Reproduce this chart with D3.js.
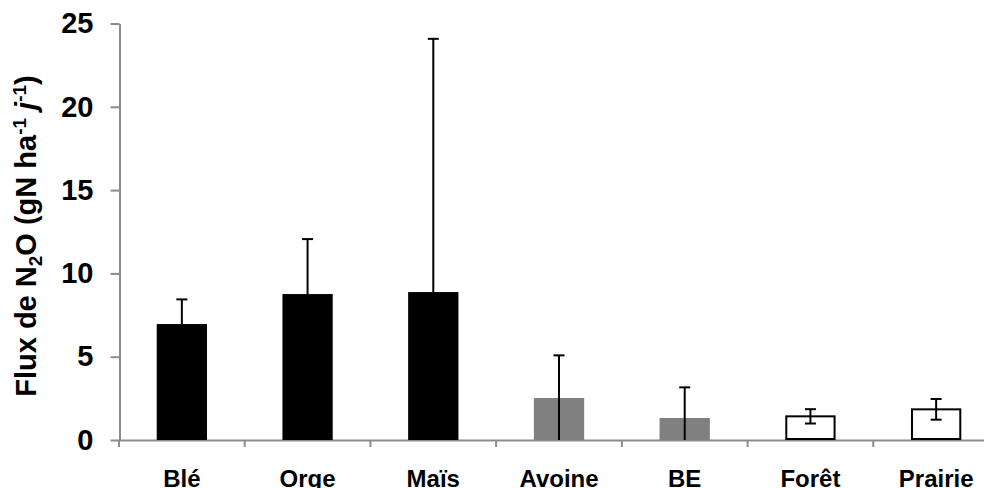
<!DOCTYPE html>
<html>
<head>
<meta charset="utf-8">
<script src="https://cdn.jsdelivr.net/npm/d3@7"></script>
<style>
  html, body { margin: 0; padding: 0; background: #fff; }
  svg { display: block; font-family: Arial, "Liberation Sans", sans-serif; font-weight: bold; }
</style>
</head>
<body>
<svg id="chart" width="984" height="488"></svg>
<script>
// N2O flux per land use (mean and standard deviation)
const categories = ["Blé", "Orge", "Maïs", "Avoine", "BE", "Forêt", "Prairie"];
const fluxMean   = [6.96, 8.76, 8.88, 2.52, 1.32, 1.42, 1.84];
const fluxSD     = [1.48, 3.30, 15.2, 2.56, 1.84, 0.43, 0.62];
const groups     = ["crop", "crop", "crop", "spring", "spring", "natural", "natural"];
const yTicks     = [0, 5, 10, 15, 20, 25];

const fillByGroup   = { crop: "#000000", spring: "#808080", natural: "#ffffff" };
const strokeByGroup = { crop: "none", spring: "none", natural: "#000000" };

const svg = d3.select("#chart");
const axisColor = "#8c8c8c";

const x = d3.scaleBand().domain(categories).range([119, 999]).paddingInner(0.6).paddingOuter(0.3);
const band = d3.scaleBand().domain(categories).range([119, 999]);
const y = d3.scaleLinear().domain([0, 25]).range([440, 23.5]);

// y axis
const yAxis = svg.append("g").attr("transform", "translate(119.5,0)")
  .call(d3.axisLeft(y).tickValues(yTicks).tickSize(9).tickPadding(17).tickSizeOuter(0));
yAxis.select(".domain").attr("stroke", axisColor).attr("stroke-width", 2);
yAxis.selectAll(".tick line").attr("stroke", axisColor).attr("stroke-width", 2);
yAxis.selectAll(".tick text").attr("fill", "#000").attr("font-size", 29)
  .attr("font-family", "Arial, 'Liberation Sans', sans-serif").attr("font-weight", "bold");

// x axis with ticks between categories
const xAxisG = svg.append("g");
xAxisG.append("line")
  .attr("x1", 119).attr("x2", 999).attr("y1", 440.5).attr("y2", 440.5)
  .attr("stroke", axisColor).attr("stroke-width", 2);
const boundaries = categories.map(c => band(c)).concat([band.range()[1]]);
xAxisG.selectAll("line.xtick").data(boundaries).join("line")
  .attr("class", "xtick")
  .attr("x1", d => d).attr("x2", d => d)
  .attr("y1", 440).attr("y2", 447)
  .attr("stroke", axisColor).attr("stroke-width", 2);
xAxisG.selectAll("text").data(categories).join("text")
  .attr("x", d => band(d) + band.bandwidth() / 2)
  .attr("y", 487)
  .attr("text-anchor", "middle")
  .attr("font-size", 24)
  .text(d => d);

// bars
const data = categories.map((c, i) => ({ c, m: fluxMean[i], sd: fluxSD[i], g: groups[i] }));
svg.append("g").selectAll("rect").data(data).join("rect")
  .attr("x", d => x(d.c) + (d.g === "natural" ? 1 : 0))
  .attr("width", d => x.bandwidth() - (d.g === "natural" ? 2 : 0))
  .attr("y", d => y(d.m))
  .attr("height", d => y(0) - y(d.m) - (d.g === "natural" ? 1 : 0))
  .attr("fill", d => fillByGroup[d.g])
  .attr("stroke", d => strokeByGroup[d.g])
  .attr("stroke-width", 2);

// error bars (clipped at zero)
const capHalf = 5.5;
const err = svg.append("g").attr("stroke", "#000").attr("stroke-width", 2);
data.forEach(d => {
  const cx = x(d.c) + x.bandwidth() / 2;
  const hi = d.m + d.sd, lo = Math.max(0, d.m - d.sd);
  err.append("line").attr("x1", cx).attr("x2", cx).attr("y1", y(hi)).attr("y2", y(lo));
  err.append("line").attr("x1", cx - capHalf).attr("x2", cx + capHalf).attr("y1", y(hi)).attr("y2", y(hi));
  if (d.m - d.sd > 0) {
    err.append("line").attr("x1", cx - capHalf).attr("x2", cx + capHalf).attr("y1", y(lo)).attr("y2", y(lo));
  }
});

// y axis title
const title = svg.append("text")
  .attr("transform", "translate(36,236) rotate(-90)")
  .attr("text-anchor", "middle")
  .attr("font-size", 29);
title.append("tspan").text("Flux de N");
title.append("tspan").attr("font-size", 19).attr("dy", 6).text("2");
title.append("tspan").attr("dy", -6).text("O (gN ha");
title.append("tspan").attr("font-size", 19).attr("dy", -10).text("-1");
title.append("tspan").attr("dy", 10).text(" ");
title.append("tspan").attr("font-style", "italic").text("j");
title.append("tspan").attr("font-size", 19).attr("dy", -10).text("-1");
title.append("tspan").attr("dy", 10).text(")");
</script>
</body>
</html>
